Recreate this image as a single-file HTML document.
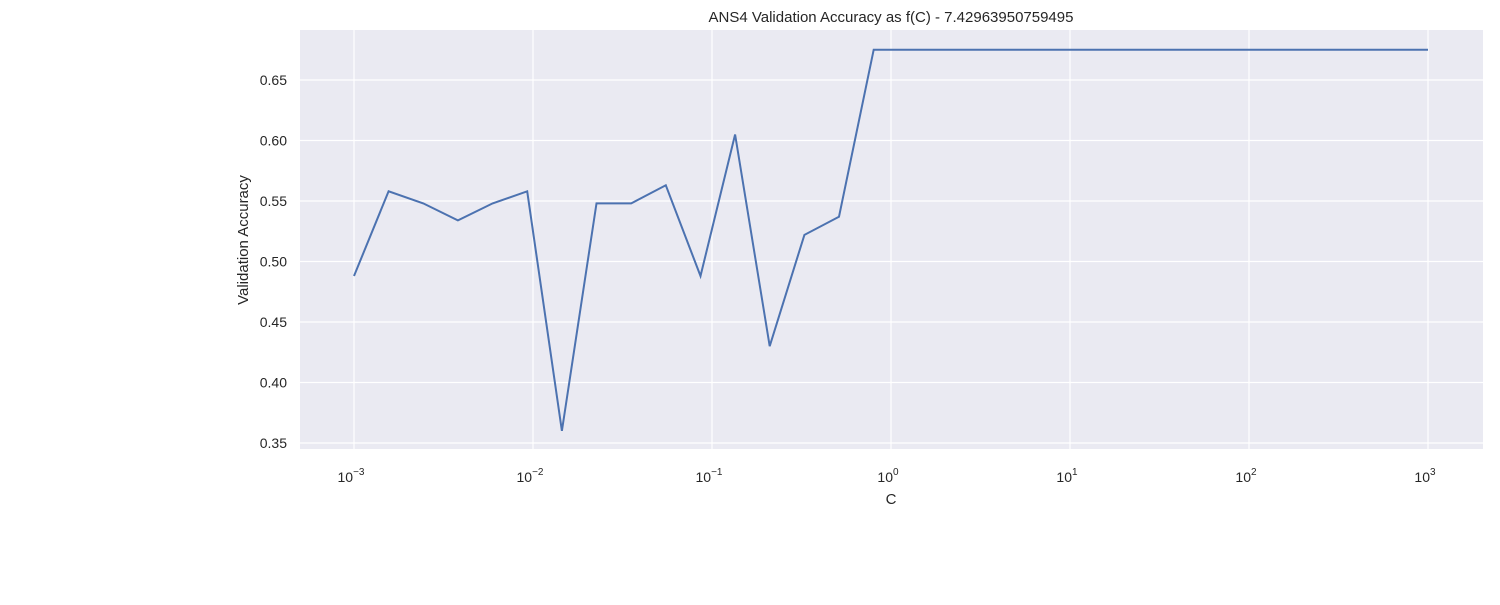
<!DOCTYPE html>
<html><head><meta charset="utf-8"><style>
body{margin:0;background:#fff;font-family:"Liberation Sans","DejaVu Sans",sans-serif}
svg text{font-family:"Liberation Sans","DejaVu Sans",sans-serif;fill:#262626}
</style></head><body>
<svg id="chart" width="1500" height="600">
<rect x="300" y="30" width="1183" height="419" fill="#eaeaf2"/>
<g id="grid"></g><g id="ticks"></g>
<path id="line" fill="none" stroke="#4c72b0" stroke-width="2"/>
<text x="891" y="22" font-size="15" text-anchor="middle">ANS4 Validation Accuracy as f(C) - 7.42963950759495</text>
<text x="891" y="504" font-size="15" text-anchor="middle">C</text>
<text transform="translate(248,240) rotate(-90)" font-size="15" text-anchor="middle">Validation Accuracy</text>
</svg>
<script>
const accuracy=[0.488,0.558,0.548,0.534,0.548,0.558,0.360,0.548,0.548,0.563,0.488,0.605,0.430,0.522,0.537,0.675,0.675,0.675,0.675,0.675,0.675,0.675,0.675,0.675,0.675,0.675,0.675,0.675,0.675,0.675,0.675,0.675];
const yTicks=[0.35,0.40,0.45,0.50,0.55,0.60,0.65];
const xTickExps=[-3,-2,-1,0,1,2,3];
const xs=e=>354+(e+3)*179;
const ys=v=>80+(0.65-v)*1210;
const NS="http://www.w3.org/2000/svg";
const grid=document.getElementById('grid'),ticks=document.getElementById('ticks');
function mk(tag,attrs,parent){const el=document.createElementNS(NS,tag);for(const k in attrs)el.setAttribute(k,attrs[k]);parent.appendChild(el);return el;}
yTicks.forEach(v=>{
 const l=mk('line',{x1:300,x2:1483,y1:ys(v),y2:ys(v),stroke:'#fff','stroke-width':1.2},grid);
 
 
 const t=mk('text',{x:287,y:ys(v)+5,'font-size':14,'text-anchor':'end'},ticks);
 t.textContent=v.toFixed(2);
 
 
});
xTickExps.forEach(e=>{
 const l=mk('line',{x1:xs(e),x2:xs(e),y1:30,y2:449,stroke:'#fff','stroke-width':1.2},grid);
 
 
 const t=mk('text',{x:xs(e)-3,y:482,'font-size':14,'text-anchor':'middle'},ticks);
 t.innerHTML='10<tspan dy="-7" font-size="10">'+(e<0?'\u2212'+(-e):e)+'</tspan>';
 
 
});
const n=accuracy.length;
document.getElementById('line').setAttribute('d',accuracy.map((v,i)=>(i?'L':'M')+xs(-3+6*i/(n-1)).toFixed(1)+','+ys(v).toFixed(1)).join(''));
</script>
</body></html>
